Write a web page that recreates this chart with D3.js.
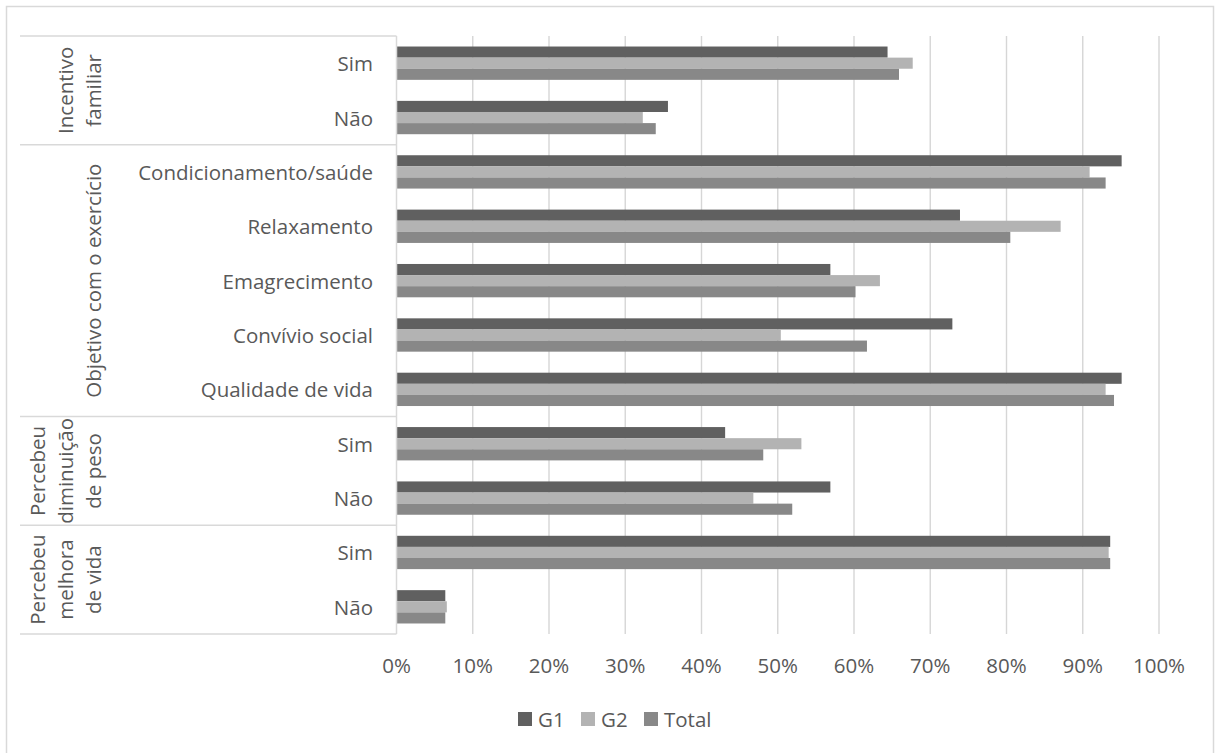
<!DOCTYPE html>
<html>
<head>
<meta charset="utf-8">
<script src="https://cdn.jsdelivr.net/npm/d3@7"></script>
<style>
  html, body { margin: 0; padding: 0; background: #fff; overflow: hidden; }
  svg { display: block; }
  text { font-family: "Open Sans", "Noto Sans", sans-serif; fill: #595959; }
</style>
</head>
<body>
<svg id="chart" width="1216" height="753"></svg>
<script>
// ---- data ----
const categories = ["Sim", "Não", "Condicionamento/saúde", "Relaxamento", "Emagrecimento",
  "Convívio social", "Qualidade de vida", "Sim", "Não", "Sim", "Não"];
const groups = [
  { lines: ["Incentivo", "familiar"], from: 0, to: 1 },
  { lines: ["Objetivo com o exercício"], from: 2, to: 6 },
  { lines: ["Percebeu", "diminuição", "de peso"], from: 7, to: 8 },
  { lines: ["Percebeu", "melhora", "de vida"], from: 9, to: 10 }
];
const seriesNames = ["G1", "G2", "Total"];
const g1Values    = [0.644, 0.356, 0.951, 0.739, 0.569, 0.729, 0.951, 0.431, 0.569, 0.936, 0.064];
const g2Values    = [0.677, 0.323, 0.909, 0.871, 0.634, 0.504, 0.930, 0.531, 0.468, 0.934, 0.066];
const totalValues = [0.659, 0.340, 0.930, 0.805, 0.602, 0.617, 0.941, 0.481, 0.519, 0.936, 0.064];
const tickValues  = [0, 0.1, 0.2, 0.3, 0.4, 0.5, 0.6, 0.7, 0.8, 0.9, 1.0];
const colors = ["#606060", "#b3b3b3", "#888888"];

const seriesValues = [g1Values, g2Values, totalValues];

// ---- layout ----
const svg = d3.select("#chart");
const fontSize = 20.5;
const plotLeft = 396.5, plotRight = 1159, plotTop = 36, plotBottom = 634;
const tableLeft = 20;

const x = d3.scaleLinear().domain([0, 1]).range([plotLeft, plotRight]);
const rowIdx = d3.range(categories.length);
const y = d3.scaleBand().domain(rowIdx).range([plotTop, plotBottom])
  .paddingInner(0.387).paddingOuter(0.387 / 2);
const ySub = d3.scaleBand().domain(seriesNames).range([0, y.bandwidth()]);

// outer border
svg.append("rect").attr("x", 6.5).attr("y", 6.5).attr("width", 1207).attr("height", 760)
  .attr("fill", "none").attr("stroke", "#d9d9d9").attr("stroke-width", 1.5);

// gridlines
svg.append("g").selectAll("line").data(tickValues.slice(1)).join("line")
  .attr("x1", d => x(d)).attr("x2", d => x(d))
  .attr("y1", plotTop).attr("y2", plotBottom)
  .attr("stroke", "#d6d6d6").attr("stroke-width", 1.4);

// bars
const rows = svg.append("g").selectAll("g").data(rowIdx).join("g")
  .attr("transform", i => `translate(0,${y(i)})`);
rows.selectAll("rect").data(i => seriesNames.map((s, k) => ({ s, k, v: seriesValues[k][i] })))
  .join("rect")
  .attr("x", x(0))
  .attr("y", d => ySub(d.s))
  .attr("width", d => x(d.v) - x(0))
  .attr("height", ySub.bandwidth())
  .attr("fill", d => colors[d.k]);

// category axis (table-like)
const step = y.step();
const boundary = i => plotTop + i * step;
svg.append("line").attr("x1", plotLeft).attr("x2", plotLeft)
  .attr("y1", plotTop).attr("y2", plotBottom).attr("stroke", "#d9d9d9").attr("stroke-width", 1.5);
const boundaries = [0].concat(groups.map(g => g.to + 1));
svg.append("g").selectAll("line").data(boundaries).join("line")
  .attr("x1", tableLeft).attr("x2", plotLeft)
  .attr("y1", d => boundary(d)).attr("y2", d => boundary(d))
  .attr("stroke", "#d9d9d9").attr("stroke-width", 1.5);

// category labels
svg.append("g").selectAll("text").data(rowIdx).join("text")
  .attr("x", 373).attr("y", i => y(i) + y.bandwidth() / 2)
  .attr("text-anchor", "end").attr("dominant-baseline", "central")
  .attr("font-size", fontSize)
  .text(i => categories[i]);

// group labels (rotated)
const lineGap = 28, lastLineX = 93;
groups.forEach(g => {
  const cy = (boundary(g.from) + boundary(g.to + 1)) / 2;
  const n = g.lines.length;
  g.lines.forEach((ln, j) => {
    const cx = lastLineX - (n - 1 - j) * lineGap;
    svg.append("text")
      .attr("transform", `translate(${cx},${cy}) rotate(-90)`)
      .attr("text-anchor", "middle").attr("dominant-baseline", "central")
      .attr("font-size", fontSize)
      .text(ln);
  });
});

// x axis labels
const fmt = d3.format(".0%");
svg.append("g").selectAll("text").data(tickValues).join("text")
  .attr("x", d => x(d)).attr("y", 665)
  .attr("text-anchor", "middle").attr("dominant-baseline", "central")
  .attr("font-size", fontSize)
  .text(d => fmt(d));

// legend
const legendX = [518, 581, 644];
const legend = svg.append("g").selectAll("g").data(seriesNames).join("g")
  .attr("transform", (d, i) => `translate(${legendX[i]},719)`);
legend.append("rect").attr("x", 0).attr("y", -7).attr("width", 14).attr("height", 14)
  .attr("fill", (d, i) => colors[i]);
legend.append("text").attr("x", 20).attr("y", 0).attr("dominant-baseline", "central")
  .attr("font-size", fontSize).text(d => d);
</script>
</body>
</html>
